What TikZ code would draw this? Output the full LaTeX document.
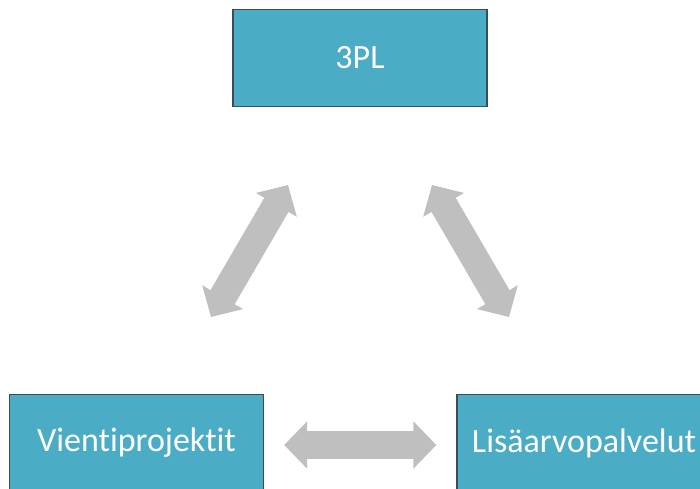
\documentclass[tikz,border=0pt]{standalone}
\usepackage{fontspec}
\setmainfont{Carlito}[Ligatures=NoCommon]
\usetikzlibrary{arrows.meta}
\definecolor{boxfill}{HTML}{4BACC6}
\definecolor{boxline}{HTML}{3C4B5A}
\definecolor{arrowgray}{HTML}{BFBFBF}
\tikzset{
  unitbox/.style={draw=boxline, line width=1.2pt, fill=boxfill, text=white,
    minimum width=254pt, minimum height=97pt, inner sep=0pt,
    font=\fontsize{34}{40}\selectfont},
  biarrow/.style={draw=arrowgray, line width=28pt,
    {Triangle[width=46pt,length=23pt]}-{Triangle[width=46pt,length=23pt]}}
}
\begin{document}
\begin{tikzpicture}[x=1pt,y=-1pt]
  \useasboundingbox (0,0) rectangle (700,488);
  \clip (0,0) rectangle (700,488);
  % the three parties
  \node[unitbox] (tpl)    at (360,58)   {3PL};
  \node[unitbox] (export) at (136.5,443) {Vientiprojektit};
  \node[unitbox] (value)  at (584,443)  {Lisäarvopalvelut};
  % ends of the slanted two-way arrows
  \coordinate (la) at (288,185);
  \coordinate (lb) at (211,317);
  \coordinate (ra) at (432,185);
  \coordinate (rb) at (509,317);
  \draw[biarrow] (la) -- (lb);
  \draw[biarrow] (ra) -- (rb);
  \draw[biarrow, shorten <=20pt, shorten >=20pt]
    ([yshift=-2pt]export.east) -- ([yshift=-2pt]value.west);
\end{tikzpicture}
\end{document}
